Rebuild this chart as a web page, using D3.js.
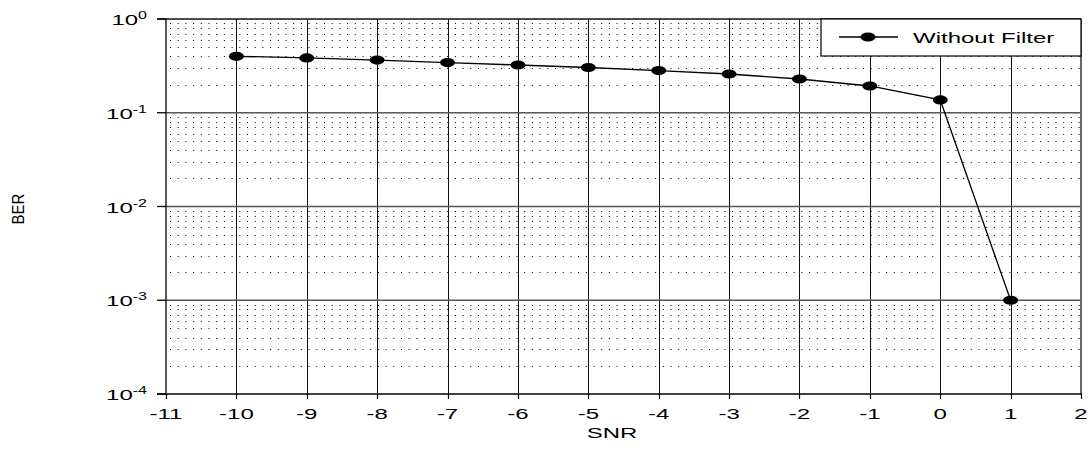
<!DOCTYPE html>
<html>
<head>
<meta charset="utf-8">
<script src="https://cdn.jsdelivr.net/npm/d3@7"></script>
<style>
  html, body { margin: 0; padding: 0; background: #fff; }
  svg { display: block; }
  text { font-family: "Liberation Sans", Arial, sans-serif; fill: #000; }
</style>
</head>
<body>
<svg id="chart" width="1088" height="453"></svg>
<script>
// ---- data ----
const snr = [-10, -9, -8, -7, -6, -5, -4, -3, -2, -1, 0, 1];
const berWithoutFilter = [0.40, 0.384, 0.365, 0.343, 0.323, 0.304, 0.282, 0.259, 0.229, 0.193, 0.137, 0.001];
const xTicks = [-11, -10, -9, -8, -7, -6, -5, -4, -3, -2, -1, 0, 1, 2];
const yExponents = [0, -1, -2, -3, -4];
const seriesName = "Without Filter";
const xTitle = "SNR";
const yTitle = "BER";

// ---- layout ----
const svg = d3.select("#chart");
const L = 166, R = 1081, T = 19, B = 394;
const SX = 1.6; // horizontal stretch of text
const x = d3.scaleLinear().domain([-11, 2]).range([L, R]);
const y = d3.scaleLog().domain([1e-4, 1]).range([B, T]);
const crisp = v => Math.round(v) + 0.5;

// minor dotted gridlines
const minorVals = [];
for (let e = -4; e < 0; e++) for (let k = 2; k <= 9; k++) minorVals.push(k * Math.pow(10, e));
svg.append("g").selectAll("line").data(minorVals).join("line")
  .attr("x1", L + 4).attr("x2", R)
  .attr("y1", d => crisp(y(d))).attr("y2", d => crisp(y(d)))
  .attr("stroke", "#000").attr("stroke-width", 1)
  .attr("stroke-dasharray", "1,6.7");

// major vertical gridlines
svg.append("g").selectAll("line").data(xTicks.slice(1, -1)).join("line")
  .attr("x1", d => crisp(x(d))).attr("x2", d => crisp(x(d)))
  .attr("y1", T).attr("y2", B)
  .attr("stroke", "#111").attr("stroke-width", 1);

// major horizontal gridlines
svg.append("g").selectAll("line").data(yExponents.slice(1, -1)).join("line")
  .attr("x1", L).attr("x2", R)
  .attr("y1", d => y(Math.pow(10, d))).attr("y2", d => y(Math.pow(10, d)))
  .attr("stroke", "#555").attr("stroke-width", 1.6);

// frame
svg.append("line").attr("x1", L - 9).attr("x2", R).attr("y1", T).attr("y2", T).attr("stroke", "#111").attr("stroke-width", 1.3);
svg.append("line").attr("x1", R).attr("x2", R).attr("y1", T).attr("y2", B).attr("stroke", "#666").attr("stroke-width", 2);
svg.append("line").attr("x1", L).attr("x2", L).attr("y1", T).attr("y2", B).attr("stroke", "#000").attr("stroke-width", 1.3);
svg.append("line").attr("x1", L - 9).attr("x2", R + 1).attr("y1", B).attr("y2", B).attr("stroke", "#000").attr("stroke-width", 1.5);

// y ticks
svg.append("g").selectAll("line").data(yExponents).join("line")
  .attr("x1", L - 9).attr("x2", L)
  .attr("y1", d => y(Math.pow(10, d))).attr("y2", d => y(Math.pow(10, d)))
  .attr("stroke", "#000").attr("stroke-width", 1.3);
// x ticks
svg.append("g").selectAll("line").data(xTicks).join("line")
  .attr("x1", d => crisp(x(d))).attr("x2", d => crisp(x(d)))
  .attr("y1", B).attr("y2", B + 5)
  .attr("stroke", "#000").attr("stroke-width", 1.2);

// x tick labels
svg.append("g").selectAll("text").data(xTicks).join("text")
  .attr("transform", d => `translate(${x(d)},${419}) scale(${SX},1)`)
  .attr("text-anchor", "middle").attr("font-size", 15)
  .text(d => d);

// y tick labels
const yl = svg.append("g").selectAll("text").data(yExponents).join("text")
  .attr("transform", d => `translate(${147},${y(Math.pow(10, d)) + 6}) scale(${SX},1)`)
  .attr("text-anchor", "end").attr("font-size", 15);
yl.append("tspan").text("10");
yl.append("tspan").attr("dy", -6).attr("font-size", 10).text(d => d === 0 ? "0" : "-" + Math.abs(d));

// axis titles
svg.append("text")
  .attr("transform", `translate(612,438) scale(${SX},1)`)
  .attr("text-anchor", "middle").attr("font-size", 15).text(xTitle);
svg.append("text")
  .attr("transform", `translate(24,209) rotate(-90) scale(1,1.05)`)
  .attr("text-anchor", "middle").attr("font-size", 15).text(yTitle);

// series line + markers
const line = d3.line().x((d, i) => x(snr[i])).y(d => y(d));
svg.append("path").datum(berWithoutFilter)
  .attr("d", line).attr("fill", "none").attr("stroke", "#000").attr("stroke-width", 1.3);
svg.append("g").selectAll("ellipse").data(berWithoutFilter).join("ellipse")
  .attr("cx", (d, i) => x(snr[i])).attr("cy", d => y(d))
  .attr("rx", 7.5).attr("ry", 4.6).attr("fill", "#000");

// legend
const lg = svg.append("g");
lg.append("rect").attr("x", 821).attr("y", T).attr("width", R - 821).attr("height", 37)
  .attr("fill", "#fff").attr("stroke", "#000").attr("stroke-width", 1.2);
lg.append("line").attr("x1", 839).attr("x2", 898).attr("y1", 37).attr("y2", 37)
  .attr("stroke", "#000").attr("stroke-width", 1.3);
lg.append("ellipse").attr("cx", 868).attr("cy", 37).attr("rx", 7.5).attr("ry", 4.6).attr("fill", "#000");
lg.append("text").attr("transform", `translate(913,43) scale(${SX},1)`)
  .attr("font-size", 15).text(seriesName);
</script>
</body>
</html>
